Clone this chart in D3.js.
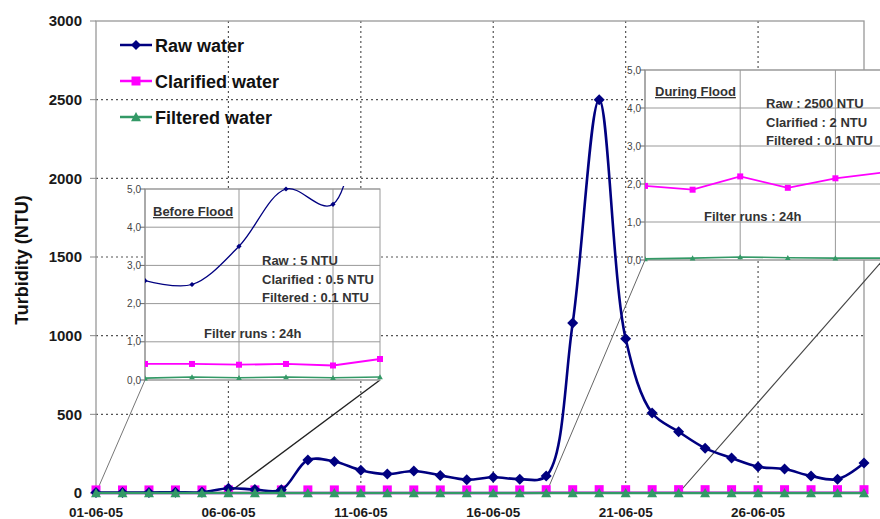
<!DOCTYPE html>
<html><head><meta charset="utf-8">
<script src="https://cdn.jsdelivr.net/npm/d3@7"></script>
<style>body{margin:0;background:#fff}svg{display:block;font-family:"Liberation Sans",Arial,sans-serif}</style>
</head><body><svg id="c" width="880" height="519"></svg>
<script>
// ---- data ----
const days = [1,2,3,4,5,6,7,8,9,10,11,12,13,14,15,16,17,18,19,20,21,22,23,24,25,26,27,28,29,30];
const rawWater = [2.6,2.5,3.5,5.0,4.6,30,22,20,210,200,145,120,140,112,85,100,88,108,1080,2500,980,508,390,285,222,167,152,108,88,190];
const clarifiedWater = [0.42,0.42,0.40,0.42,0.38,0.55,0.5,0.5,0.6,0.6,0.5,0.5,0.5,0.5,0.5,0.5,0.6,1.95,1.85,2.2,1.9,2.15,2.3,2.1,2.0,2.0,1.9,1.9,2.0,2.0];
const filteredWater = [0.05,0.08,0.06,0.08,0.06,0.08,0.1,0.1,0.1,0.1,0.1,0.1,0.1,0.1,0.1,0.1,0.1,0.03,0.05,0.08,0.06,0.05,0.05,0.1,0.1,0.1,0.1,0.1,0.1,0.1];
const seriesNames = ["Raw water","Clarified water","Filtered water"];
const yTicks = [0,500,1000,1500,2000,2500,3000];
const xTickDays = [1,6,11,16,21,26];
const xTickLabels = ["01-06-05","06-06-05","11-06-05","16-06-05","21-06-05","26-06-05"];
const insetTicks = [0,1,2,3,4,5];
const insetTickLabels = ["0,0","1,0","2,0","3,0","4,0","5,0"];
const beforeFloodDays = [1,2,3,4,5,6];
const duringFloodDays = [18,19,20,21,22,23];
const beforeTitle = "Before Flood";
const duringTitle = "During Flood";
const beforeNotes = ["Raw : 5 NTU","Clarified : 0.5 NTU","Filtered : 0.1 NTU"];
const duringNotes = ["Raw : 2500 NTU","Clarified : 2 NTU","Filtered : 0.1 NTU"];
const filterRunsNote = "Filter runs : 24h";

// ---- styles ----
const C_RAW = "#000080", C_CLA = "#FF00FF", C_FIL = "#339966";
const svg = d3.select("#c");
const x = d3.scaleLinear([1,30],[96,864]);
const y = d3.scaleLinear([0,3000],[493,21]);

const diamond = r => `M0,${-r}L${r},0L0,${r}L${-r},0Z`;
const square = r => `M${-r},${-r}H${r}V${r}H${-r}Z`;
const triangle = r => `M0,${-r}L${r},${r*0.85}L${-r},${r*0.85}Z`;

// gridlines
const grid = svg.append("g").attr("stroke","#555").attr("stroke-width",1.2).attr("stroke-dasharray","2,3");
yTicks.filter(v=>v>0&&v<3000).forEach(v=>grid.append("line").attr("x1",x(1)).attr("x2",x(30)).attr("y1",y(v)).attr("y2",y(v)));
xTickDays.filter(d=>d>1).forEach(d=>grid.append("line").attr("x1",x(d)).attr("x2",x(d)).attr("y1",y(3000)).attr("y2",y(0)));

// frame
svg.append("rect").attr("x",x(1)).attr("y",y(3000)).attr("width",x(30)-x(1)).attr("height",y(0)-y(3000))
  .attr("fill","none").attr("stroke","#999").attr("stroke-width",1.3);

// y axis ticks & labels
const ya = svg.append("g");
yTicks.forEach(v=>{
  ya.append("line").attr("x1",x(1)-6).attr("x2",x(1)).attr("y1",y(v)).attr("y2",y(v)).attr("stroke","#888");
  ya.append("text").attr("x",82).attr("y",y(v)).attr("dy","0.36em").attr("text-anchor","end")
    .attr("font-size",15).attr("font-weight","bold").attr("fill","#1a1a1a").text(v);
});
xTickDays.forEach((d,i)=>{
  svg.append("text").attr("x",x(d)).attr("y",517).attr("text-anchor","middle")
    .attr("font-size",13.5).attr("font-weight","bold").attr("fill","#1a1a1a").text(xTickLabels[i]);
});
svg.append("text").attr("transform","translate(28,260) rotate(-90)").attr("text-anchor","middle")
  .attr("font-size",18).attr("font-weight","bold").attr("fill","#111").text("Turbidity (NTU)");

// connecting lines (zoom guides)
const bf = {x0:145,x1:380,yTop:189,yBot:380};
const df = {x0:645,x1:883,yTop:70,yBot:260};
const guides = svg.append("g");
guides.append("line").attr("x1",x(beforeFloodDays[0])).attr("y1",y(0)).attr("x2",bf.x0).attr("y2",bf.yBot).attr("stroke","#777").attr("stroke-width",1);
guides.append("line").attr("x1",x(beforeFloodDays[5])).attr("y1",y(0)).attr("x2",bf.x1).attr("y2",bf.yBot).attr("stroke","#222").attr("stroke-width",1.4);
guides.append("line").attr("x1",x(duringFloodDays[0])).attr("y1",y(0)).attr("x2",df.x0).attr("y2",df.yBot).attr("stroke","#666").attr("stroke-width",1);
guides.append("line").attr("x1",x(duringFloodDays[5])).attr("y1",y(0)).attr("x2",df.x1).attr("y2",df.yBot).attr("stroke","#444").attr("stroke-width",1.1);

// main series
const idx = days.map((d,i)=>i);
const lineStraight = vals => d3.line().x(i=>x(days[i])).y(i=>y(vals[i]));
svg.append("path").attr("d",lineStraight(clarifiedWater)(idx)).attr("fill","none").attr("stroke",C_CLA).attr("stroke-width",2.5);
svg.selectAll(".cm").data(idx).join("path").attr("transform",i=>`translate(${x(days[i])},${y(clarifiedWater[i])-3})`).attr("d",square(4.5)).attr("fill",C_CLA);
svg.append("path").attr("d",d3.line().x(i=>x(days[i])).y(i=>y(rawWater[i])).curve(d3.curveCatmullRom.alpha(0.5))(idx))
  .attr("fill","none").attr("stroke",C_RAW).attr("stroke-width",2.6);
svg.selectAll(".rm").data(idx).join("path").attr("transform",i=>`translate(${x(days[i])},${y(rawWater[i])})`).attr("d",diamond(5.5)).attr("fill",C_RAW);
svg.append("path").attr("d",lineStraight(filteredWater)(idx)).attr("fill","none").attr("stroke",C_FIL).attr("stroke-width",2.6);
svg.selectAll(".fm").data(idx).join("path").attr("transform",i=>`translate(${x(days[i])},${y(filteredWater[i])})`).attr("d",triangle(5)).attr("fill",C_FIL);

// legend
const lg = svg.append("g");
[[C_RAW,diamond(5)],[C_CLA,square(4.5)],[C_FIL,triangle(5)]].forEach((s,i)=>{
  const yy = 45 + i*36;
  lg.append("line").attr("x1",120).attr("x2",152).attr("y1",yy).attr("y2",yy).attr("stroke",s[0]).attr("stroke-width",2.5);
  lg.append("path").attr("transform",`translate(136,${yy})`).attr("d",s[1]).attr("fill",s[0]);
  lg.append("text").attr("x",155).attr("y",yy+6.5).attr("font-size",18).attr("font-weight","bold").attr("fill","#111").text(seriesNames[i]);
});

// insets
function inset(box, dRange, title, titlePos, notes, notesPos, runsPos, id, showRaw){
  const g = svg.append("g");
  const ix = d3.scaleLinear([dRange[0],dRange[dRange.length-1]],[box.x0,box.x1]);
  const iy = d3.scaleLinear([0,5],[box.yBot,box.yTop]);
  g.append("rect").attr("x",box.x0).attr("y",box.yTop).attr("width",box.x1-box.x0).attr("height",box.yBot-box.yTop).attr("fill","#fff").attr("stroke","#999");
  insetTicks.forEach((t,k)=>{
    g.append("line").attr("x1",box.x0).attr("x2",box.x1).attr("y1",iy(t)).attr("y2",iy(t)).attr("stroke","#999").attr("stroke-width",1);
    g.append("line").attr("x1",box.x0-5).attr("x2",box.x0).attr("y1",iy(t)).attr("y2",iy(t)).attr("stroke","#666");
    g.append("text").attr("x",box.x0-4).attr("y",iy(t)).attr("dy","0.35em").attr("text-anchor","end").attr("font-size",10).attr("fill","#444").text(insetTickLabels[k]);
  });
  [dRange[2],dRange[4]].forEach(d=>g.append("line").attr("x1",ix(d)).attr("x2",ix(d)).attr("y1",box.yTop).attr("y2",box.yBot).attr("stroke","#999"));
  g.append("line").attr("x1",box.x0).attr("x2",box.x0).attr("y1",box.yTop).attr("y2",box.yBot).attr("stroke","#888");
  const ii = dRange.map(d=>days.indexOf(d));
  g.append("clipPath").attr("id",id).append("rect").attr("x",box.x0).attr("y",box.yTop-3).attr("width",box.x1-box.x0+3).attr("height",box.yBot-box.yTop+6);
  const pg = g.append("g").attr("clip-path",`url(#${id})`);
  if(showRaw){
    pg.append("path").attr("d",d3.line().x(i=>ix(days[i])).y(i=>iy(rawWater[i])).curve(d3.curveCatmullRom.alpha(0.5))(ii)).attr("fill","none").attr("stroke",C_RAW).attr("stroke-width",1.3);
    pg.selectAll(".r").data(ii).join("path").attr("transform",i=>`translate(${ix(days[i])},${iy(rawWater[i])})`).attr("d",diamond(2.6)).attr("fill",C_RAW);
  }
  pg.append("path").attr("d",d3.line().x(i=>ix(days[i])).y(i=>iy(clarifiedWater[i]))(ii)).attr("fill","none").attr("stroke",C_CLA).attr("stroke-width",1.8);
  pg.selectAll(".c").data(ii).join("path").attr("transform",i=>`translate(${ix(days[i])},${iy(clarifiedWater[i])})`).attr("d",square(3)).attr("fill",C_CLA);
  pg.append("path").attr("d",d3.line().x(i=>ix(days[i])).y(i=>iy(filteredWater[i]))(ii)).attr("fill","none").attr("stroke",C_FIL).attr("stroke-width",1.6);
  pg.selectAll(".f").data(ii).join("path").attr("transform",i=>`translate(${ix(days[i])},${iy(filteredWater[i])})`).attr("d",triangle(2.8)).attr("fill",C_FIL);
  const tf = s=>s.attr("font-size",13).attr("font-weight","bold").attr("fill","#333");
  tf(g.append("text").attr("x",titlePos[0]).attr("y",titlePos[1]).attr("text-decoration","underline").text(title));
  notes.forEach((n,k)=>tf(g.append("text").attr("x",notesPos[0]).attr("y",notesPos[1]+k*18.5).text(n)));
  tf(g.append("text").attr("x",runsPos[0]).attr("y",runsPos[1]).text(filterRunsNote));
}
inset(bf, beforeFloodDays, beforeTitle, [153,216], beforeNotes, [262,265], [204,338], "clipB", true);
inset(df, duringFloodDays, duringTitle, [655,96], duringNotes, [766,108], [704,221], "clipD", false);
</script></body></html>
